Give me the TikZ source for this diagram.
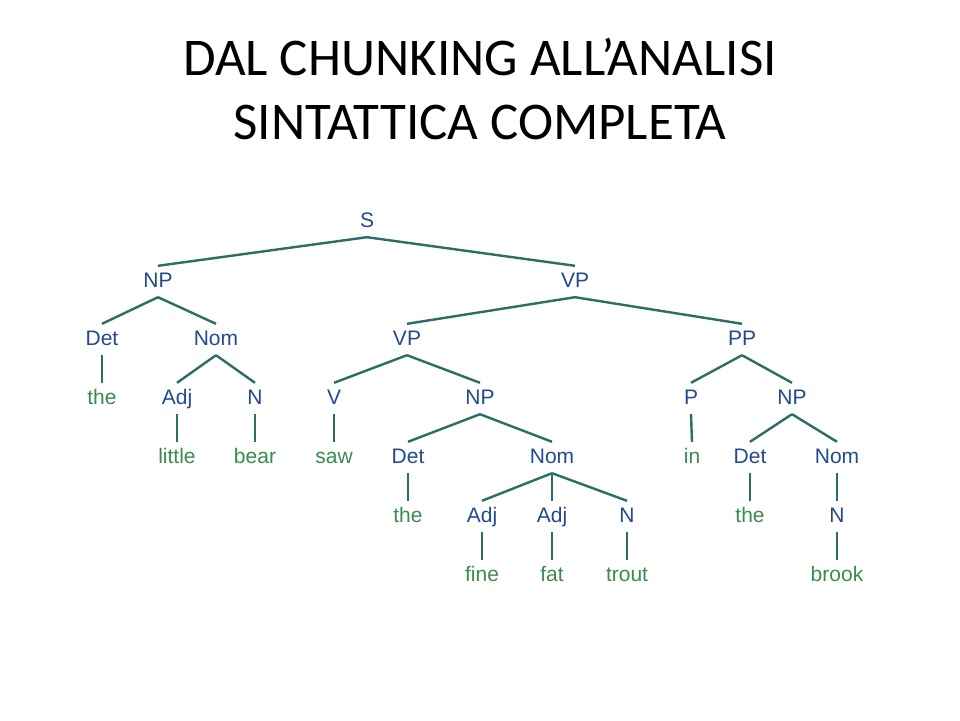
\documentclass[tikz,border=0pt]{standalone}
\usepackage{fontspec}
\setmainfont{Liberation Sans}
\newfontfamily\titlefont{Carlito}
\definecolor{ntblue}{HTML}{234A8C}
\definecolor{twgreen}{HTML}{3B8C4F}
\definecolor{edgeteal}{HTML}{2A6E66}
\begin{document}
\begin{tikzpicture}[x=1pt,y=-1pt,
  lbl/.style={anchor=base,inner sep=0pt,text height=21pt,text depth=10pt,font=\fontsize{21}{24}\selectfont},
  nt/.style={lbl,text=ntblue},
  tw/.style={lbl,text=twgreen},
  br/.style={draw=edgeteal,line width=2.4pt},
  ttl/.style={anchor=base,inner sep=0pt,font=\titlefont\fontsize{53}{64}\selectfont}]
\useasboundingbox[fill=white] (0,0) rectangle (960,720);
\node[ttl] (t1) at (480,75) {DAL CHUNKING ALL’ANALISI};
\node[ttl] (t2) at (480,139) {SINTATTICA COMPLETA};
% row 1
\node[nt] (S) at (367,227) {S};
% row 2
\node[nt] (NPa) at (158,287) {NP};
\node[nt] (VPa) at (575,287) {VP};
% row 3
\node[nt] (Deta) at (102,345) {Det};
\node[nt] (Noma) at (216,345) {Nom};
\node[nt] (VPb) at (407,345) {VP};
\node[nt] (PPa) at (742,345) {PP};
% row 4
\node[tw] (the1) at (102,404) {the};
\node[nt] (Adja) at (177,404) {Adj};
\node[nt] (Na) at (255,404) {N};
\node[nt] (Va) at (334,404) {V};
\node[nt] (NPb) at (480,404) {NP};
\node[nt] (Pa) at (691,404) {P};
\node[nt] (NPc) at (792,404) {NP};
% row 5
\node[tw] (little) at (177,463) {little};
\node[tw] (bear) at (255,463) {bear};
\node[tw] (saw) at (334,463) {saw};
\node[nt] (Detb) at (408,463) {Det};
\node[nt] (Nomb) at (552,463) {Nom};
\node[tw] (in) at (692,463) {in};
\node[nt] (Detc) at (750,463) {Det};
\node[nt] (Nomc) at (837,463) {Nom};
% row 6
\node[tw] (the2) at (408,522) {the};
\node[nt] (Adjb) at (482,522) {Adj};
\node[nt] (Adjc) at (552,522) {Adj};
\node[nt] (Nb) at (627,522) {N};
\node[tw] (the3) at (750,522) {the};
\node[nt] (Nc) at (837,522) {N};
% row 7
\node[tw] (fine) at (482,581) {fine};
\node[tw] (fat) at (552,581) {fat};
\node[tw] (trout) at (627,581) {trout};
\node[tw] (brook) at (837,581) {brook};
% edges
\foreach \p/\c in {S/NPa,S/VPa,NPa/Deta,NPa/Noma,VPa/VPb,VPa/PPa,
  Deta/the1,Noma/Adja,Noma/Na,VPb/Va,VPb/NPb,PPa/Pa,PPa/NPc,
  Adja/little,Na/bear,Va/saw,NPb/Detb,NPb/Nomb,Pa/in,NPc/Detc,NPc/Nomc,
  Detb/the2,Nomb/Adjb,Nomb/Adjc,Nomb/Nb,Detc/the3,Nomc/Nc,
  Adjb/fine,Adjc/fat,Nb/trout,Nc/brook}
  \draw[br] (\p.south) -- (\c.north);
\end{tikzpicture}
\end{document}
